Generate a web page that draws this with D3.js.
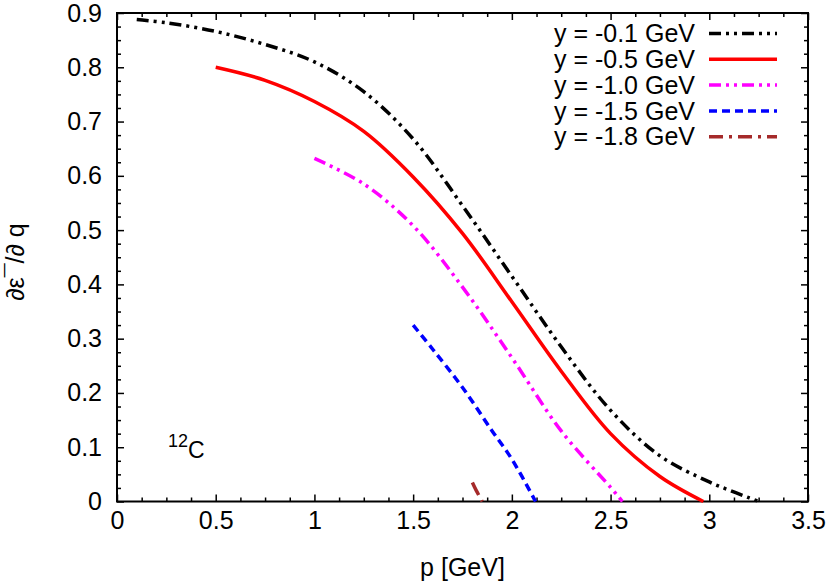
<!DOCTYPE html>
<html>
<head>
<meta charset="utf-8">
<script src="https://cdn.jsdelivr.net/npm/d3@7"></script>
<style>
  body { margin: 0; background: #fff; }
  svg text { font-family: "Liberation Sans", Arial, sans-serif; fill: #000; }
</style>
</head>
<body>
<div id="chart"></div>
<script>
// values
var xTicks = [0, 0.5, 1, 1.5, 2, 2.5, 3, 3.5];
var yTicks = [0, 0.1, 0.2, 0.3, 0.4, 0.5, 0.6, 0.7, 0.8, 0.9];
var seriesNames = ['y = -0.1 GeV', 'y = -0.5 GeV', 'y = -1.0 GeV', 'y = -1.5 GeV', 'y = -1.8 GeV'];

var p01 = [0.1, 0.25, 0.5, 0.75, 1.0, 1.25, 1.5, 1.75, 2.0, 2.25, 2.5, 2.75, 3.0, 3.1, 3.2, 3.25];
var v01 = [0.888, 0.882, 0.866, 0.842, 0.81, 0.755, 0.668, 0.545, 0.415, 0.285, 0.168, 0.084, 0.036, 0.021, 0.007, 0];

var p05 = [0.5, 0.75, 1.0, 1.25, 1.5, 1.75, 2.0, 2.25, 2.5, 2.75, 2.97];
var v05 = [0.80, 0.776, 0.737, 0.682, 0.598, 0.494, 0.368, 0.24, 0.125, 0.046, 0];

var p10 = [1.0, 1.25, 1.5, 1.75, 2.0, 2.25, 2.5, 2.56];
var v10 = [0.632, 0.585, 0.508, 0.395, 0.265, 0.13, 0.026, 0];

var p15 = [1.5, 1.6, 1.75, 1.9, 2.0, 2.12];
var v15 = [0.325, 0.28, 0.21, 0.13, 0.078, 0];

var p18 = [1.8, 1.82, 1.85];
var v18 = [0.035, 0.02, 0];

var series = [
  { name: seriesNames[0], p: p01, v: v01, color: '#000000', dash: '12,5,3,5,3,5' },
  { name: seriesNames[1], p: p05, v: v05, color: '#ff0000', dash: null },
  { name: seriesNames[2], p: p10, v: v10, color: '#ff00ff', dash: '12,5,3,5,3,5' },
  { name: seriesNames[3], p: p15, v: v15, color: '#0000ff', dash: '8,5' },
  { name: seriesNames[4], p: p18, v: v18, color: '#a52a2a', dash: '14,6,3,6' }
];

var W = 830, H = 583;
var plotL = 117, plotR = 808, plotT = 13, plotB = 501.5;
var fontSize = 25;

var svg = d3.select('#chart').append('svg')
  .attr('width', W)
  .attr('height', H);

var x = d3.scaleLinear().domain([0, 3.5]).range([plotL, plotR]);
var y = d3.scaleLinear().domain([0, 0.9]).range([plotB, plotT]);

// minor ticks (4 subintervals)
var xMinor = d3.range(0, 3.5001, 0.125).filter(function(d) { return Math.abs(d * 2 - Math.round(d * 2)) > 1e-6; });
var yMinor = d3.range(0, 0.9001, 0.025).filter(function(d) { return Math.abs(d * 10 - Math.round(d * 10)) > 1e-6; });

function styleAxis(g) {
  g.select('.domain').remove();
  g.selectAll('line').attr('stroke', '#000').attr('stroke-width', 1.5);
  g.selectAll('text').attr('font-size', fontSize).attr('font-family', '"Liberation Sans", Arial, sans-serif');
}

// bottom
svg.append('g').attr('transform', 'translate(0,' + plotB + ')')
  .call(d3.axisBottom(x).tickValues(xTicks).tickSize(-7).tickPadding(10).tickFormat(function(d) { return d; }))
  .call(styleAxis);
svg.append('g').attr('transform', 'translate(0,' + plotB + ')')
  .call(d3.axisBottom(x).tickValues(xMinor).tickSize(-4).tickFormat(''))
  .call(styleAxis);
// top
svg.append('g').attr('transform', 'translate(0,' + plotT + ')')
  .call(d3.axisTop(x).tickValues(xTicks).tickSize(-7).tickFormat(''))
  .call(styleAxis);
svg.append('g').attr('transform', 'translate(0,' + plotT + ')')
  .call(d3.axisTop(x).tickValues(xMinor).tickSize(-4).tickFormat(''))
  .call(styleAxis);
// left
svg.append('g').attr('transform', 'translate(' + plotL + ',0)')
  .call(d3.axisLeft(y).tickValues(yTicks).tickSize(-7).tickPadding(15).tickFormat(function(d) { return d; }))
  .call(styleAxis);
svg.append('g').attr('transform', 'translate(' + plotL + ',0)')
  .call(d3.axisLeft(y).tickValues(yMinor).tickSize(-4).tickFormat(''))
  .call(styleAxis);
// right
svg.append('g').attr('transform', 'translate(' + plotR + ',0)')
  .call(d3.axisRight(y).tickValues(yTicks).tickSize(-7).tickFormat(''))
  .call(styleAxis);
svg.append('g').attr('transform', 'translate(' + plotR + ',0)')
  .call(d3.axisRight(y).tickValues(yMinor).tickSize(-4).tickFormat(''))
  .call(styleAxis);

// frame
svg.append('rect')
  .attr('x', plotL).attr('y', plotT)
  .attr('width', plotR - plotL).attr('height', plotB - plotT)
  .attr('fill', 'none').attr('stroke', '#000').attr('stroke-width', 2);

var line = d3.line()
  .x(function(d) { return x(d[0]); })
  .y(function(d) { return y(d[1]); })
  .curve(d3.curveCatmullRom.alpha(0.5));

svg.append('g').selectAll('path')
  .data(series)
  .enter().append('path')
    .attr('d', function(s) { return line(d3.zip(s.p, s.v)); })
    .attr('fill', 'none')
    .attr('stroke', function(s) { return s.color; })
    .attr('stroke-width', 3.5)
    .attr('stroke-dasharray', function(s) { return s.dash; });

// legend
var legend = svg.append('g').selectAll('g')
  .data(series)
  .enter().append('g')
    .attr('transform', function(s, i) { return 'translate(0,' + (33.5 + i * 25.8) + ')'; });

legend.append('text')
  .attr('x', 695).attr('y', 0).attr('dy', '0.35em')
  .attr('text-anchor', 'end')
  .attr('font-size', fontSize)
  .text(function(s) { return s.name; });

legend.append('line')
  .attr('x1', 709).attr('x2', 777)
  .attr('y1', 0).attr('y2', 0)
  .attr('stroke', function(s) { return s.color; })
  .attr('stroke-width', 3.5)
  .attr('stroke-dasharray', function(s) { return s.dash; });

// axis labels
svg.append('text')
  .attr('x', (plotL + plotR) / 2).attr('y', 576)
  .attr('text-anchor', 'middle')
  .attr('font-size', fontSize)
  .text('p [GeV]');

svg.append('text')
  .attr('transform', 'translate(24,262) rotate(-90)')
  .attr('text-anchor', 'middle')
  .attr('font-size', fontSize)
  .text('\u2202\u03b5\u00af/\u2202 q');

// nucleus label
var nuc = svg.append('text')
  .attr('x', 168).attr('y', 458)
  .attr('font-size', 23);
nuc.append('tspan').attr('font-size', 18).attr('dy', -11).text('12');
nuc.append('tspan').attr('dy', 11).text('C');
</script>
</body>
</html>
